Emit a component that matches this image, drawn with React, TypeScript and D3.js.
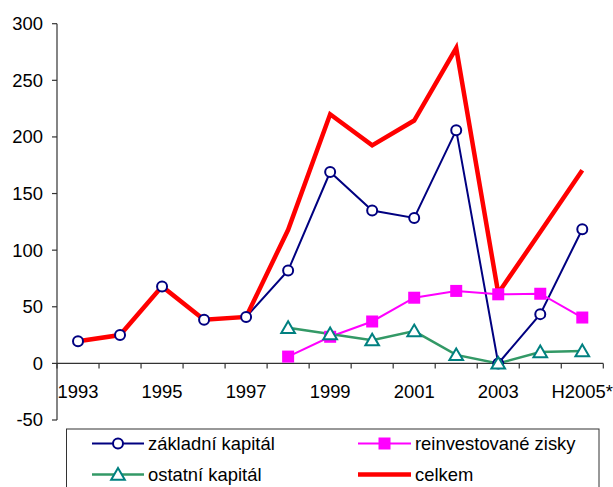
import React from "react";
import * as d3 from "d3";

const categories = ["1993","1994","1995","1996","1997","1998","1999","2000","2001","2002","2003","2004","H2005*"];
const xTickLabels = ["1993","","1995","","1997","","1999","","2001","","2003","","H2005*"];
const zakladni: (number | null)[] = [19.5, 25, 68, 38.5, 41, 82, 169, 135, 128.5, 206, 0, 43.5, 118.5];
const reinvest: (number | null)[] = [null, null, null, null, null, 6, 23.5, 37, 58, 64, 61, 61.5, 40.5];
const ostatni: (number | null)[] = [null, null, null, null, null, 31.5, 26, 20.5, 28.5, 7.5, 0, 10, 11];
const celkem: (number | null)[] = [19.5, 25, 68, 38.5, 41, 118, 220, 192.5, 214.5, 278.5, 62, 116, 170.5];
const yTicks = [-50, 0, 50, 100, 150, 200, 250, 300];

const W = 613, H = 487;
const FONT = "'Liberation Sans', Arial, sans-serif";
const FS = 18.4;

export default function App() {
  const x = d3.scaleBand<string>().domain(categories).range([57, 603.3]).padding(0);
  const y = d3.scaleLinear().domain([-50, 300]).range([420, 23.7]);
  const cx = (c: string) => (x(c) as number) + x.bandwidth() / 2;
  const line = d3
    .line<number | null>()
    .defined((d) => d !== null)
    .x((_, i) => cx(categories[i]))
    .y((d) => y(d as number));

  const pts = (arr: (number | null)[]) =>
    arr
      .map((v, i) => (v === null ? null : { x: cx(categories[i]), y: y(v), k: i }))
      .filter((p): p is { x: number; y: number; k: number } => p !== null);

  const tri = (px: number, py: number, s = 6.5) =>
    `M${px},${py - s}L${px + s * 1.05},${py + s * 0.8}L${px - s * 1.05},${py + s * 0.8}Z`;

  const y0 = y(0);
  const boundaries = categories.map((c) => x(c) as number).concat([603.3]);

  return (
    <svg width={W} height={H} style={{ position: "absolute", left: 0, top: 0, background: "#fff" }} fontFamily={FONT}>
      {/* axes */}
      <line x1={57} x2={57} y1={y(300)} y2={y(-50)} stroke="#333" strokeWidth={1.2} />
      {yTicks.map((t) => (
        <g key={t}>
          <line x1={52} x2={57} y1={y(t)} y2={y(t)} stroke="#333" strokeWidth={1.2} />
          <text x={43} y={y(t)} dy="0.35em" textAnchor="end" fontSize={FS} fill="#000">
            {t}
          </text>
        </g>
      ))}
      <line x1={57} x2={603.3} y1={y0} y2={y0} stroke="#333" strokeWidth={1.2} />
      {boundaries.map((b, i) => (
        <line key={i} x1={b} x2={b} y1={y0} y2={y0 + 5} stroke="#333" strokeWidth={1.2} />
      ))}
      {categories.map((c, i) =>
        xTickLabels[i] ? (
          <text key={c} x={cx(c)} y={y0 + 28} dy="0.35em" textAnchor="middle" fontSize={FS} fill="#000">
            {xTickLabels[i]}
          </text>
        ) : null
      )}

      {/* lines */}
      <path d={line(zakladni) || ""} fill="none" stroke="#000080" strokeWidth={2} />
      <path d={line(reinvest) || ""} fill="none" stroke="#FF00FF" strokeWidth={2} />
      <path d={line(ostatni) || ""} fill="none" stroke="#339966" strokeWidth={2.5} />
      <path d={line(celkem) || ""} fill="none" stroke="#FF0000" strokeWidth={4.5} strokeLinejoin="miter" />

      {/* markers */}
      {pts(zakladni).map((p) => (
        <circle key={p.k} cx={p.x} cy={p.y} r={5} fill="#fff" stroke="#000080" strokeWidth={2} />
      ))}
      {pts(reinvest).map((p) => (
        <rect key={p.k} x={p.x - 6} y={p.y - 6} width={12} height={12} fill="#FF00FF" />
      ))}
      {pts(ostatni).map((p) => (
        <path key={p.k} d={tri(p.x, p.y)} fill="#fff" stroke="#008080" strokeWidth={2} />
      ))}

      {/* legend */}
      <rect x={66.5} y={429} width={532.5} height={62} fill="#fff" stroke="#333" strokeWidth={1} />
      <g fontSize={FS} fill="#000">
        <line x1={92} x2={144} y1={443.5} y2={443.5} stroke="#000080" strokeWidth={2} />
        <circle cx={118} cy={443.5} r={5} fill="#fff" stroke="#000080" strokeWidth={2} />
        <text x={148} y={443.5} dy="0.35em">základní kapitál</text>

        <line x1={92} x2={144} y1={474.5} y2={474.5} stroke="#339966" strokeWidth={2.5} />
        <path d={tri(118, 474.5)} fill="#fff" stroke="#008080" strokeWidth={2} />
        <text x={148} y={474.5} dy="0.35em">ostatní kapitál</text>

        <line x1={358} x2={411} y1={443.5} y2={443.5} stroke="#FF00FF" strokeWidth={2} />
        <rect x={378.5} y={437.5} width={12} height={12} fill="#FF00FF" />
        <text x={415} y={443.5} dy="0.35em">reinvestované zisky</text>

        <line x1={358} x2={411} y1={474.5} y2={474.5} stroke="#FF0000" strokeWidth={4.5} />
        <text x={415} y={474.5} dy="0.35em">celkem</text>
      </g>
    </svg>
  );
}
